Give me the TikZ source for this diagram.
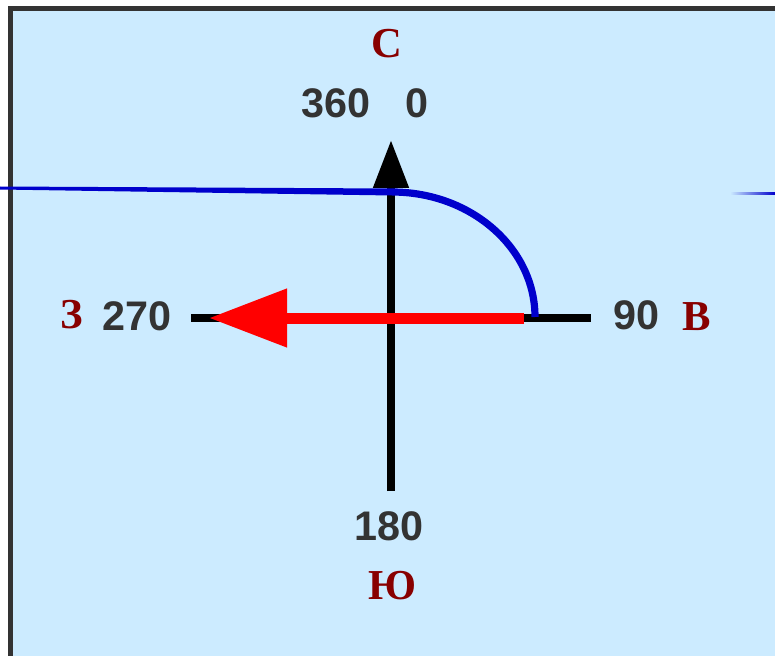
\documentclass[tikz,border=0pt]{standalone}
\usepackage{fontspec}
\setmainfont{Liberation Sans}
\newfontfamily\cyrserif{Liberation Serif}
\usetikzlibrary{arrows.meta}
\definecolor{skybg}{HTML}{CCEBFF}
\definecolor{framegray}{HTML}{333333}
\definecolor{digitgray}{HTML}{333333}
\definecolor{cyrred}{HTML}{880000}
\definecolor{arcblue}{HTML}{0000CC}
\definecolor{arrowred}{HTML}{FF0000}

\begin{document}
\begin{tikzpicture}[x=0.75pt, y=-0.75pt,
  deg/.style={inner sep=0pt, text=digitgray, font=\bfseries\fontsize{31}{37}\selectfont},
  dir/.style={inner sep=0pt, text=cyrred, font=\cyrserif\bfseries\fontsize{32}{38}\selectfont},
  axis/.style={line width=6pt, black}]
\useasboundingbox (0,0) rectangle (775,656);
% frame and background
\fill[white] (0,0) rectangle (775,656);
\fill[framegray] (8,6) rectangle (775,656);
\fill[skybg] (13,11) rectangle (775,656);
% axes
\coordinate (N) at (391,140); \coordinate (S) at (391,491);
\coordinate (W) at (191,318); \coordinate (E) at (591,318);
\draw[axis] (W) -- (E);
\draw[axis, -{Triangle[length=36pt, width=25.5pt]}] (S) -- (N);
% course line
\fill[arcblue] (0,186.5) -- (392,188.5) -- (392,195.5) -- (0,189.5) -- cycle;
\coordinate (arcstart) at (392,192);
\draw[arcblue, line width=5.4pt] (arcstart) arc[start angle=90, end angle=0, x radius=107.25pt, y radius=93.75pt] coordinate (arcend);
\shade[left color=skybg, right color=arcblue] (730,193) rectangle (775,195);
% heading arrow
\coordinate (headfrom) at (524,318); \coordinate (headto) at (209,318);
\draw[arrowred, line width=8.25pt, -{Triangle[length=58.5pt, width=42pt]}] (headfrom) -- (headto);
% labels
\node[dir] (north) at (387,44) {С};
\node[deg] (n360) at (336,103) {360};
\node[deg] (n0) at (417,103) {0};
\node[dir] (west) at (72,315) {З};
\node[deg] (n270) at (137,316) {270};
\node[deg] (n90) at (636,315) {90};
\node[dir] (east) at (697,317) {В};
\node[deg] (n180) at (389,526) {180};
\node[dir] (south) at (393,586) {Ю};
\end{tikzpicture}
\end{document}
